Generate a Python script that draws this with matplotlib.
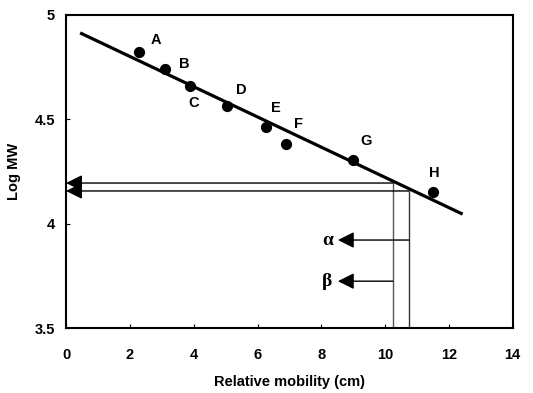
import matplotlib.pyplot as plt

# standard proteins
labels = ['A', 'B', 'C', 'D', 'E', 'F', 'G', 'H']
mobility = [2.29, 3.10, 3.88, 5.04, 6.26, 6.89, 8.99, 11.49]
log_mw = [4.823, 4.74, 4.66, 4.564, 4.463, 4.38, 4.305, 4.15]
label_x = [2.82, 3.70, 4.00, 5.48, 6.58, 7.30, 9.40, 11.53]
label_y = [4.88, 4.765, 4.58, 4.64, 4.554, 4.478, 4.396, 4.243]

# fitted line
fit_x = [0.44, 12.43]
fit_y = [4.914, 4.046]

# unknown subunits (alpha, beta)
sub_names = ['\u03b1', '\u03b2']
sub_mob = [10.74, 10.24]
sub_logmw = [4.157, 4.195]
sub_arrow_y = [3.922, 3.725]
sub_arrow_tip = [8.52, 8.52]

plt.rcParams['font.family'] = ['Liberation Sans', 'DejaVu Sans']

fig = plt.figure(figsize=(5.33, 3.93), dpi=100)
ax = fig.add_axes([0.124, 0.165, 0.838, 0.797])

ax.plot(fit_x, fit_y, color='black', lw=2.3, solid_capstyle='butt')
ax.scatter(mobility, log_mw, s=50, color='black', zorder=3)
for lab, lx, ly in zip(labels, label_x, label_y):
    ax.text(lx, ly, lab, fontsize=10.5, fontweight='bold', ha='center', va='center')

line_cols = ['#333333', '#555555']
arrow_kw = dict(arrowstyle='-|>,head_length=0.7,head_width=0.35', color='black', lw=1,
                mutation_scale=14, shrinkA=0, shrinkB=0)
for i in range(2):
    # vertical line from x axis to the fit, then horizontal to the y axis
    ax.plot([sub_mob[i], sub_mob[i]], [3.5, sub_logmw[i]], color=line_cols[i], lw=1)
    ax.annotate('', xy=(0.0, sub_logmw[i]), xytext=(sub_mob[i], sub_logmw[i]),
                arrowprops=arrow_kw, annotation_clip=False)
    # legend arrows
    ax.annotate('', xy=(sub_arrow_tip[i], sub_arrow_y[i]), xytext=(sub_mob[i], sub_arrow_y[i]),
                arrowprops=arrow_kw)
    ax.text(sub_arrow_tip[i] - 0.33, sub_arrow_y[i], sub_names[i], fontsize=14,
            family=['Liberation Serif', 'DejaVu Serif'], fontweight='bold',
            ha='center', va='center')

ax.set_xlim(0, 14)
ax.set_ylim(3.5, 5)
ax.set_xticks(range(0, 15, 2))
ax.set_yticks([3.5, 4, 4.5, 5])
ax.set_yticklabels(['3.5', '4', '4.5', '5'])
ax.tick_params(direction='in', length=3, labelsize=10.5, pad=8)
ax.tick_params(axis='x', pad=14)
for t in ax.get_xticklabels() + ax.get_yticklabels():
    t.set_fontweight('bold')
for s in ax.spines.values():
    s.set_linewidth(1.5)

ax.set_xlabel('Relative mobility (cm)', fontsize=10.5, fontweight='bold', labelpad=10)
ax.set_ylabel('Log MW', fontsize=10.5, fontweight='bold', labelpad=10)

fig.savefig('out.png', dpi=100, facecolor='white')
